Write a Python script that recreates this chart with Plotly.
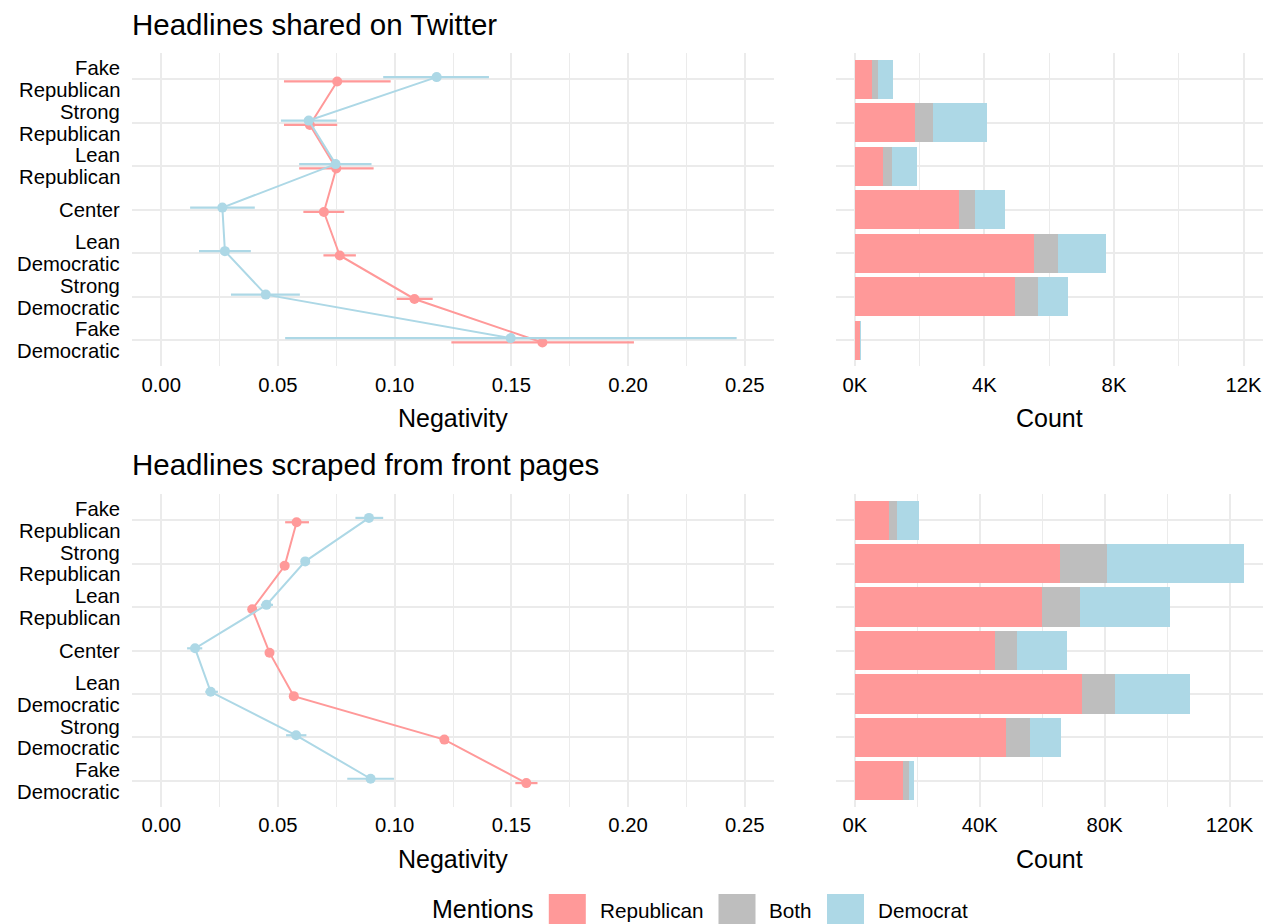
import plotly.graph_objects as go

# ---------------- data ----------------
categories = ["Fake Republican", "Strong Republican", "Lean Republican", "Center",
              "Lean Democratic", "Strong Democratic", "Fake Democratic"]
label_line1 = ["Fake", "Strong", "Lean", "Center", "Lean", "Strong", "Fake"]
label_line2 = ["Republican", "Republican", "Republican", "", "Democratic", "Democratic", "Democratic"]

# Twitter – negativity (mean, lower, upper)
tw_rep_neg = [0.0754, 0.0637, 0.0750, 0.0697, 0.0765, 0.1085, 0.1633]
tw_rep_lo = [0.0526, 0.0526, 0.0591, 0.0609, 0.0695, 0.1009, 0.1243]
tw_rep_hi = [0.0983, 0.0754, 0.0910, 0.0784, 0.0834, 0.1163, 0.2025]
tw_dem_neg = [0.1180, 0.0632, 0.0747, 0.0262, 0.0273, 0.0448, 0.1497]
tw_dem_lo = [0.0951, 0.0513, 0.0591, 0.0124, 0.0162, 0.0299, 0.0531]
tw_dem_hi = [0.1404, 0.0752, 0.0901, 0.0401, 0.0384, 0.0594, 0.2465]

# Front pages – negativity
fp_rep_neg = [0.0580, 0.0529, 0.0390, 0.0464, 0.0568, 0.1213, 0.1564]
fp_rep_lo = [0.0531, 0.0514, 0.0376, 0.0450, 0.0553, 0.1198, 0.1517]
fp_rep_hi = [0.0633, 0.0544, 0.0404, 0.0478, 0.0583, 0.1228, 0.1612]
fp_dem_neg = [0.0890, 0.0617, 0.0451, 0.0145, 0.0212, 0.0578, 0.0897]
fp_dem_lo = [0.0832, 0.0601, 0.0427, 0.0111, 0.0189, 0.0535, 0.0797]
fp_dem_hi = [0.0951, 0.0633, 0.0479, 0.0176, 0.0243, 0.0622, 0.0997]

# Counts by mention
tw_count_rep = [520, 1850, 860, 3220, 5540, 4950, 150]
tw_count_both = [190, 550, 280, 500, 740, 690, 10]
tw_count_dem = [450, 1690, 790, 920, 1470, 940, 10]

fp_count_rep = [10900, 65700, 60000, 44900, 72800, 48500, 15300]
fp_count_both = [2500, 15000, 12100, 7100, 10500, 7700, 2000]
fp_count_dem = [7000, 43800, 28800, 16000, 23900, 9900, 1500]

neg_ticks = [0.00, 0.05, 0.10, 0.15, 0.20, 0.25]
tw_count_ticks = [0, 4000, 8000, 12000]
fp_count_ticks = [0, 40000, 80000, 120000]
legend_names = ["Republican", "Both", "Democrat"]

# ---------------- style ----------------
W, H = 1272, 924
RED, GREY, BLUE = "#FF9999", "#BEBEBE", "#ADD8E6"
GRID = "#EBEBEB"
FONT = "Liberation Sans, Arial, sans-serif"
TXT = "#000000"
DODGE = 0.05
ROW_PX = 43.5  # pixel height of one category row


def px(x):
    return x / W


def py(y):
    return 1 - y / H


L_DOM = [px(132), px(774)]
R_DOM = [px(835.5), px(1263)]
TOP_DOM = [py(366.4), py(53.2)]
BOT_DOM = [py(807), py(494)]

fig = go.Figure()
idx = list(range(len(categories)))


def add_neg(neg, lo, hi, color, offset, xa, ya):
    fig.add_trace(go.Scatter(
        x=neg, y=[i + offset for i in idx], mode="lines+markers",
        line=dict(color=color, width=2), marker=dict(color=color, size=10),
        error_x=dict(type="data", symmetric=False,
                     array=[h - n for h, n in zip(hi, neg)],
                     arrayminus=[n - l for n, l in zip(neg, lo)],
                     color=color, thickness=2.2, width=0),
        xaxis=xa, yaxis=ya, showlegend=False, hoverinfo="x+y"))


add_neg(tw_rep_neg, tw_rep_lo, tw_rep_hi, RED, DODGE, "x", "y")
add_neg(tw_dem_neg, tw_dem_lo, tw_dem_hi, BLUE, -DODGE, "x", "y")
add_neg(fp_rep_neg, fp_rep_lo, fp_rep_hi, RED, DODGE, "x3", "y3")
add_neg(fp_dem_neg, fp_dem_lo, fp_dem_hi, BLUE, -DODGE, "x3", "y3")

for vals, color, name in zip([tw_count_rep, tw_count_both, tw_count_dem],
                             [RED, GREY, BLUE], legend_names):
    fig.add_trace(go.Bar(x=vals, y=idx, orientation="h", width=0.9, name=name,
                         marker=dict(color=color, line=dict(width=0)),
                         xaxis="x2", yaxis="y2", showlegend=False))
for vals, color, name in zip([fp_count_rep, fp_count_both, fp_count_dem],
                             [RED, GREY, BLUE], legend_names):
    fig.add_trace(go.Bar(x=vals, y=idx, orientation="h", width=0.9, name=name,
                         marker=dict(color=color, line=dict(width=0)),
                         xaxis="x4", yaxis="y4", showlegend=False))

tickfont = dict(family=FONT, size=20.3, color=TXT)


def xax(domain, anchor, rng, tickvals, ticktext, minor_vals):
    return dict(domain=domain, anchor=anchor, range=rng, tickvals=tickvals,
                ticktext=ticktext, showgrid=True, gridcolor=GRID, gridwidth=1.8,
                zeroline=False, showline=False, ticks="", tickfont=tickfont,
                ticklabelstandoff=4,
                minor=dict(tickvals=minor_vals, showgrid=True, gridcolor=GRID,
                           gridwidth=1.2, ticks=""), fixedrange=True)


def yax(domain, anchor):
    return dict(domain=domain, anchor=anchor, range=[len(categories) - 0.4, -0.6],
                tickvals=idx, showticklabels=False,
                showgrid=True, gridcolor=GRID, gridwidth=2.4, zeroline=False,
                showline=False, ticks="", fixedrange=True)


neg_minor = [0.025, 0.075, 0.125, 0.175, 0.225]
fig.update_layout(
    width=W, height=H, margin=dict(l=0, r=0, t=0, b=0),
    paper_bgcolor="white", plot_bgcolor="white", barmode="stack",
    showlegend=False, font=dict(family=FONT, color=TXT),
    xaxis=xax(L_DOM, "y", [-0.0125, 0.2625], neg_ticks,
              ["%.2f" % v for v in neg_ticks], neg_minor),
    yaxis=yax(TOP_DOM, "x"),
    xaxis2=xax(R_DOM, "y2", [-600, 12600], tw_count_ticks,
               ["%dK" % (v // 1000) for v in tw_count_ticks], [2000, 6000, 10000]),
    yaxis2=yax(TOP_DOM, "x2"),
    xaxis3=xax(L_DOM, "y3", [-0.0125, 0.2625], neg_ticks,
               ["%.2f" % v for v in neg_ticks], neg_minor),
    yaxis3=yax(BOT_DOM, "x3"),
    xaxis4=xax(R_DOM, "y4", [-6225, 130725], fp_count_ticks,
               ["%dK" % (v // 1000) for v in fp_count_ticks], [20000, 60000, 100000]),
    yaxis4=yax(BOT_DOM, "x4"),
)

ann = []


def text(t, x, y, size, xanchor="left", yref="paper", yval=None):
    ann.append(dict(text=t, x=px(x), y=py(y) if yval is None else yval,
                    xref="paper", yref=yref,
                    xanchor=xanchor, yanchor="middle", showarrow=False,
                    font=dict(family=FONT, size=size, color=TXT)))


# category labels (two lines, tight spacing like the reference)
half = 10.85 / ROW_PX
for ya in ("y", "y3"):
    for i, (l1, l2) in enumerate(zip(label_line1, label_line2)):
        if l2:
            text(l1, 122, 0, 20.3, "right", ya, i - half)
            text(l2, 122, 0, 20.3, "right", ya, i + half)
        else:
            text(l1, 122, 0, 20.3, "right", ya, i)

text("Headlines shared on Twitter", 130, 24.5, 29.5)
text("Headlines scraped from front pages", 130, 464.5, 29.5)
for yy in (417.5, 858.5):
    text("Negativity", 453, yy, 25, "center")
    text("Count", 1049, yy, 25, "center")

# legend
text("Mentions", 430, 908.5, 25)
shapes = []
key_x = [548.8, 718.5, 827]
lab_x = [598, 767, 876]
for kx, lx, c, n in zip(key_x, lab_x, [RED, GREY, BLUE], legend_names):
    shapes.append(dict(type="rect", xref="paper", yref="paper", x0=px(kx), x1=px(kx + 37),
                       y0=py(931), y1=py(894), fillcolor=c, line=dict(width=0)))
    text(n, lx, 910, 20.7)

fig.update_layout(annotations=ann, shapes=shapes)
fig.write_html("out.html", config={"displayModeBar": False},
               post_script="document.body.style.margin='0';document.body.style.overflow='hidden';")
